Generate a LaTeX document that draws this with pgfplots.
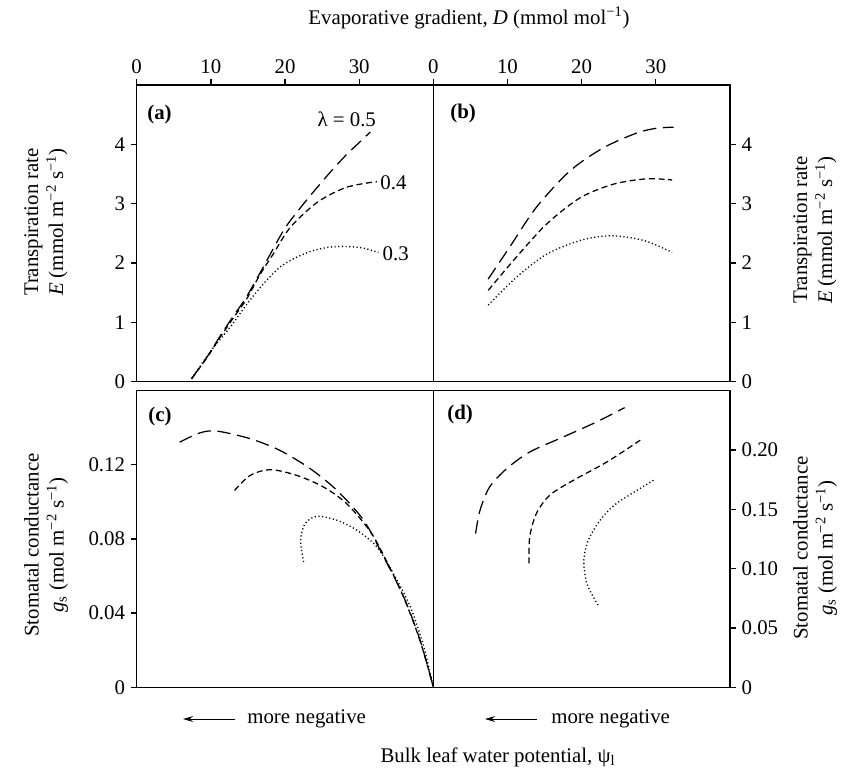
\documentclass[border=0pt]{standalone}
\usepackage{fontspec}
\setmainfont{Liberation Serif}
\usepackage{pgfplots}
\pgfplotsset{compat=1.18}
\usetikzlibrary{arrows.meta}
\newcommand{\fs}{\fontsize{12.5}{15}\selectfont}
\pgfplotsset{
  panel/.style={scale only axis, width=178pt, height=178pt,
    axis line style={line width=0.8pt}, every tick/.style={black, line width=0.8pt},
    tick align=outside, major tick length=3.5pt,
    tick label style={font=\fs}, /pgf/number format/assume math mode=true,
    clip=false, label style={font=\fs}},
  la/.style={black, line width=0.75pt, dash pattern=on 8pt off 4pt},
  lb/.style={black, line width=0.75pt, dash pattern=on 3.6pt off 2.2pt},
  lc/.style={black, line width=0.8pt, dash pattern=on 0.7pt off 1.5pt},
}
\begin{document}
\begin{tikzpicture}
\path (0,0) rectangle (510pt,-463.8pt);
% (a)
\begin{axis}[panel, at={(82.02pt,-229.02pt)}, anchor=south west,
  xmin=0, xmax=40, ymin=0, ymax=5,
  xtick={0,10,20,30}, xtick pos=upper, xticklabel pos=upper,
  ytick={0,1,2,3,4}, ytick pos=lower, yticklabel pos=lower]
\addplot[la, smooth] coordinates {(7.4,0.05) (9.5,0.42) (11.2,0.76) (13,1.1) (14.8,1.43) (17.1,1.94) (19.8,2.55) (22,2.92) (24.3,3.27) (26.3,3.56) (28.3,3.83) (30,4.03) (31.5,4.21)};
\addplot[lb, smooth] coordinates {(7.4,0.05) (9.5,0.41) (11.2,0.74) (13,1.07) (14.8,1.39) (16.6,1.80) (18.4,2.15) (20.7,2.60) (24.3,3.02) (27.9,3.26) (30.6,3.34) (32.4,3.37)};
\addplot[lc, smooth] coordinates {(7.4,0.05) (10,0.52) (12.6,0.92) (15,1.33) (17.1,1.65) (19.3,1.93) (21.6,2.10) (23.8,2.21) (26.1,2.27) (28.3,2.28) (30.6,2.25) (32.6,2.18)};
\node[anchor=west, font=\fs] at (axis cs:23.6,4.43) {λ = 0.5};
\node[anchor=west, font=\fs, inner sep=1pt] at (axis cs:32.6,3.35) {0.4};
\node[anchor=west, font=\fs, inner sep=1pt] at (axis cs:32.9,2.16) {0.3};
\end{axis}
% (b)
\begin{axis}[panel, at={(259.98pt,-229.02pt)}, anchor=south west,
  xmin=0, xmax=40, ymin=0, ymax=5,
  xtick={0,10,20,30}, xtick pos=upper, xticklabel pos=upper,
  ytick={0,1,2,3,4}, ytick pos=upper, yticklabel pos=upper]
\addplot[la, smooth] coordinates {(7.4,1.73) (10.3,2.27) (13.9,2.94) (18.4,3.55) (22.9,3.94) (27.4,4.19) (30,4.27) (32.4,4.29)};
\addplot[lb, smooth] coordinates {(7.4,1.54) (11.2,2.10) (15.3,2.66) (19.8,3.10) (24.3,3.33) (28.8,3.42) (32.2,3.40)};
\addplot[lc, smooth] coordinates {(7.4,1.29) (11.2,1.76) (15.3,2.15) (19.8,2.38) (23.9,2.46) (28.4,2.38) (32.2,2.18)};
\end{axis}
% (c)
\begin{axis}[panel, at={(82.02pt,-412.38pt)}, anchor=south west,
  xmin=-40, xmax=0, ymin=0, ymax=0.16, xtick=\empty,
  ytick={0,0.04,0.08,0.12}, yticklabels={0,0.04,0.08,0.12},
  ytick pos=lower, yticklabel pos=lower]
\addplot[la, smooth] coordinates {(-34.2,0.1322) (-31.5,0.1372) (-29.2,0.1382) (-24.7,0.1341) (-20.7,0.1278) (-16.6,0.1179) (-13.0,0.1062) (-9.4,0.0901) (-6.7,0.0703) (-4.0,0.0488) (-1.8,0.0255) (0,0)};
\addplot[lb, smooth] coordinates {(-26.8,0.1062) (-24.7,0.1143) (-22.0,0.1174) (-18.4,0.1143) (-14.8,0.1080) (-11.7,0.0991) (-8.5,0.0840) (-6.3,0.0680) (-4.0,0.0485) (-1.8,0.0252) (0,0)};
\addplot[lc, smooth] coordinates {(-17.5,0.0676) (-17.9,0.0793) (-17.3,0.0883) (-15.7,0.0922) (-13.0,0.0901) (-10.3,0.0847) (-7.6,0.0757) (-5.4,0.0614) (-3.1,0.0434) (-1.3,0.0219) (0,0)};
\end{axis}
% (d)
\begin{axis}[panel, at={(259.98pt,-412.38pt)}, anchor=south west,
  xmin=-40, xmax=0, ymin=0, ymax=0.25, xtick=\empty,
  ytick={0,0.05,0.10,0.15,0.20}, yticklabels={0,0.05,0.10,0.15,0.20},
  ytick pos=upper, yticklabel pos=upper]
\addplot[la, smooth] coordinates {(-34.3,0.1296) (-33.7,0.1492) (-32.4,0.1689) (-30.1,0.1843) (-27.0,0.1983) (-22.5,0.2109) (-18.0,0.2236) (-14.2,0.2357)};
\addplot[lb, smooth] coordinates {(-27.1,0.1044) (-27.0,0.1268) (-26.1,0.1465) (-24.3,0.1619) (-21.1,0.1745) (-16.6,0.1899) (-12.1,0.2082)};
\addplot[lc, smooth] coordinates {(-17.8,0.0693) (-19.3,0.0875) (-19.7,0.1072) (-19.1,0.1240) (-17.5,0.1408) (-15.3,0.1549) (-10.3,0.1745)};
\end{axis}
\begin{scope}[x=0.6pt, y=-0.6pt]
\node[font=\fs] at (469,18) {Evaporative gradient, \textit{D} (mmol mol\textsuperscript{−1})};
\node[font=\fs] at (498,757) {Bulk leaf water potential, ψ\textsubscript{l}};
\node[font=\fs\bfseries, anchor=west, inner sep=0pt] at (147,114) {(a)};
\node[font=\fs\bfseries, anchor=west, inner sep=0pt] at (450,113) {(b)};
\node[font=\fs\bfseries, anchor=west, inner sep=0pt] at (148,416) {(c)};
\node[font=\fs\bfseries, anchor=west, inner sep=0pt] at (447,414) {(d)};
\node[font=\fs, align=center, rotate=90] at (46,222) {Transpiration rate\\\textit{E} (mmol m\textsuperscript{−2} s\textsuperscript{−1})};
\node[font=\fs, align=center, rotate=90] at (815,230) {Transpiration rate\\\textit{E} (mmol m\textsuperscript{−2} s\textsuperscript{−1})};
\node[font=\fs, align=center, rotate=90] at (46,545) {Stomatal conductance\\\textit{g}\textsubscript{s} (mol m\textsuperscript{−2} s\textsuperscript{−1})};
\node[font=\fs, align=center, rotate=90] at (815,548) {Stomatal conductance\\\textit{g}\textsubscript{s} (mol m\textsuperscript{−2} s\textsuperscript{−1})};
\draw[-{Stealth[length=6pt,width=3.5pt]}, line width=0.6pt] (235,719) -- (183,719);
\node[font=\fs, anchor=west, inner sep=0pt] at (247,719) {more negative};
\draw[-{Stealth[length=6pt,width=3.5pt]}, line width=0.6pt] (537,719) -- (485,719);
\node[font=\fs, anchor=west, inner sep=0pt] at (551,719) {more negative};
\end{scope}
\end{tikzpicture}
\end{document}
